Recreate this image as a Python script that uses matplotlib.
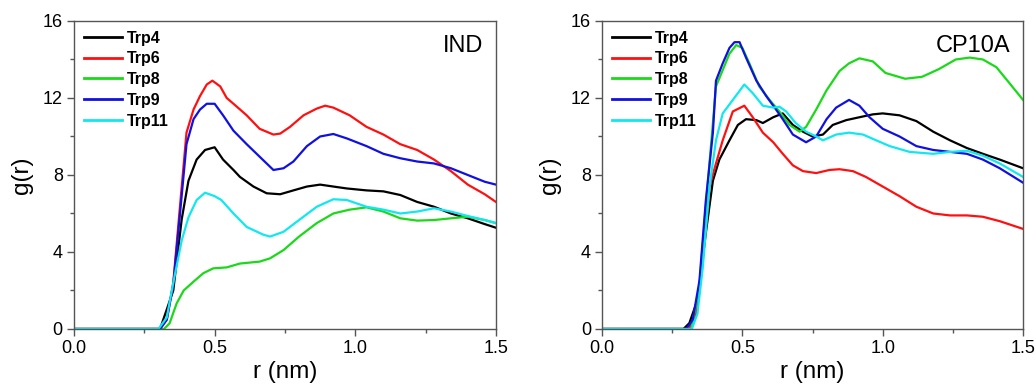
import matplotlib.pyplot as plt
from matplotlib.ticker import MultipleLocator

plt.rcParams["font.family"] = ["Liberation Sans", "DejaVu Sans"]

# ── IND ────────────────────────────────────────────────────────────────
ind_trp4_r = [0.0, 0.29, 0.306, 0.353, 0.383, 0.407, 0.436, 0.466, 0.50, 0.53, 0.567, 0.59,
              0.638, 0.685, 0.733, 0.78, 0.828, 0.875, 0.922, 0.97, 1.04, 1.10, 1.16,
              1.22, 1.28, 1.34, 1.40, 1.46, 1.50]
ind_trp4_g = [0, 0, 0, 2.0, 5.7, 7.7, 8.8, 9.3, 9.44, 8.8, 8.26, 7.9,
              7.4, 7.05, 7.0, 7.2, 7.4, 7.5, 7.4, 7.3, 7.2, 7.15, 6.96,
              6.6, 6.35, 6.0, 5.75, 5.45, 5.26]

ind_trp6_r = [0.0, 0.29, 0.306, 0.33, 0.353, 0.377, 0.40, 0.425, 0.448, 0.472, 0.492, 0.52,
              0.543, 0.567, 0.614, 0.66, 0.709, 0.733, 0.768, 0.816, 0.863, 0.893, 0.922,
              0.98, 1.04, 1.10, 1.16, 1.22, 1.28, 1.34, 1.40, 1.46, 1.50]
ind_trp6_g = [0, 0, 0, 0.47, 2.4, 6.4, 10.2, 11.4, 12.1, 12.7, 12.9, 12.6,
              12.0, 11.7, 11.1, 10.4, 10.1, 10.15, 10.5, 11.1, 11.45, 11.6, 11.5,
              11.1, 10.5, 10.1, 9.6, 9.3, 8.8, 8.2, 7.5, 7.0, 6.6]

ind_trp8_r = [0.0, 0.31, 0.32, 0.34, 0.365, 0.39, 0.425, 0.46, 0.495, 0.543, 0.59, 0.66,
              0.697, 0.745, 0.80, 0.863, 0.922, 0.98, 1.04, 1.10, 1.16, 1.22, 1.28,
              1.34, 1.40, 1.46, 1.50]
ind_trp8_g = [0, 0, 0, 0.3, 1.33, 2.0, 2.46, 2.9, 3.15, 3.2, 3.4, 3.5,
              3.67, 4.1, 4.8, 5.5, 6.0, 6.2, 6.32, 6.1, 5.75, 5.63, 5.66,
              5.75, 5.83, 5.66, 5.5]

ind_trp9_r = [0.0, 0.29, 0.306, 0.33, 0.353, 0.377, 0.40, 0.425, 0.448, 0.472, 0.50, 0.53,
              0.567, 0.614, 0.66, 0.709, 0.745, 0.78, 0.828, 0.875, 0.922, 0.97, 1.04,
              1.10, 1.16, 1.22, 1.28, 1.34, 1.40, 1.46, 1.50]
ind_trp9_g = [0, 0, 0, 0.5, 2.3, 6.0, 9.6, 10.9, 11.4, 11.7, 11.7, 11.1,
              10.3, 9.6, 8.95, 8.26, 8.35, 8.7, 9.5, 10.0, 10.13, 9.9, 9.5,
              9.1, 8.87, 8.7, 8.6, 8.35, 8.0, 7.65, 7.5]

ind_trp11_r = [0.0, 0.29, 0.30, 0.33, 0.353, 0.383, 0.407, 0.436, 0.466, 0.50, 0.524, 0.567,
               0.614, 0.673, 0.697, 0.745, 0.80, 0.863, 0.922, 0.97, 1.04, 1.10, 1.16,
               1.22, 1.28, 1.34, 1.40, 1.46, 1.50]
ind_trp11_g = [0, 0, 0, 0.6, 2.4, 4.6, 5.8, 6.7, 7.08, 6.9, 6.7, 6.0,
               5.3, 4.9, 4.8, 5.05, 5.66, 6.35, 6.74, 6.7, 6.35, 6.2, 6.0,
               6.1, 6.27, 6.1, 5.87, 5.66, 5.5]

# ── CP10A ──────────────────────────────────────────────────────────────
cp_trp4_r = [0.0, 0.28, 0.29, 0.311, 0.34, 0.37, 0.395, 0.418, 0.454, 0.484, 0.513, 0.55,
             0.573, 0.61, 0.644, 0.68, 0.716, 0.75, 0.787, 0.822, 0.87, 0.917, 0.965,
             1.0, 1.06, 1.12, 1.18, 1.24, 1.30, 1.357, 1.417, 1.50]
cp_trp4_g = [0, 0, 0, 0.3, 1.5, 5.0, 7.7, 8.8, 9.8, 10.6, 10.9, 10.85,
             10.7, 11.0, 11.2, 10.6, 10.25, 10.0, 10.1, 10.6, 10.85, 11.0, 11.15,
             11.2, 11.1, 10.8, 10.25, 9.8, 9.4, 9.1, 8.8, 8.35]

cp_trp6_r = [0.0, 0.30, 0.31, 0.335, 0.359, 0.383, 0.406, 0.43, 0.466, 0.507, 0.537, 0.573,
             0.61, 0.644, 0.68, 0.716, 0.763, 0.81, 0.846, 0.894, 0.94, 1.0, 1.06,
             1.12, 1.18, 1.24, 1.30, 1.357, 1.417, 1.50]
cp_trp6_g = [0, 0, 0, 0.8, 3.6, 7.4, 8.6, 9.8, 11.3, 11.6, 11.0, 10.2,
             9.7, 9.1, 8.5, 8.2, 8.1, 8.26, 8.3, 8.2, 7.9, 7.4, 6.9,
             6.35, 6.0, 5.9, 5.9, 5.83, 5.6, 5.2]

cp_trp8_r = [0.0, 0.31, 0.318, 0.347, 0.37, 0.406, 0.454, 0.478, 0.50, 0.525, 0.56, 0.597,
             0.632, 0.668, 0.704, 0.727, 0.763, 0.80, 0.846, 0.88, 0.917, 0.965, 1.01,
             1.08, 1.14, 1.20, 1.26, 1.31, 1.357, 1.405, 1.45, 1.50]
cp_trp8_g = [0, 0, 0, 2.2, 6.4, 12.6, 14.3, 14.75, 14.6, 13.8, 12.6, 11.9,
             11.3, 10.6, 10.25, 10.5, 11.4, 12.4, 13.4, 13.8, 14.06, 13.9, 13.3,
             13.0, 13.1, 13.5, 14.0, 14.1, 14.0, 13.6, 12.8, 11.9]

cp_trp9_r = [0.0, 0.29, 0.30, 0.323, 0.347, 0.37, 0.395, 0.406, 0.43, 0.454, 0.472, 0.49,
             0.513, 0.55, 0.585, 0.62, 0.644, 0.68, 0.727, 0.763, 0.80, 0.834, 0.88,
             0.917, 0.953, 1.0, 1.06, 1.12, 1.18, 1.24, 1.30, 1.357, 1.417, 1.50]
cp_trp9_g = [0, 0, 0, 0.47, 2.5, 6.7, 10.2, 12.9, 13.8, 14.6, 14.9, 14.9,
             14.1, 12.9, 12.1, 11.4, 10.9, 10.1, 9.7, 10.0, 10.9, 11.5, 11.9,
             11.6, 11.0, 10.4, 10.0, 9.5, 9.3, 9.2, 9.1, 8.8, 8.35, 7.6]

cp_trp11_r = [0.0, 0.31, 0.32, 0.34, 0.359, 0.383, 0.406, 0.43, 0.466, 0.507, 0.537, 0.573,
              0.61, 0.632, 0.656, 0.69, 0.727, 0.763, 0.787, 0.834, 0.88, 0.93, 0.977,
              1.025, 1.096, 1.18, 1.24, 1.30, 1.357, 1.417, 1.50]
cp_trp11_g = [0, 0, 0, 0.8, 3.2, 7.4, 9.8, 11.2, 11.9, 12.7, 12.25, 11.6,
              11.5, 11.55, 11.3, 10.7, 10.25, 10.0, 9.8, 10.1, 10.2, 10.1, 9.8,
              9.5, 9.2, 9.1, 9.2, 9.26, 9.0, 8.6, 7.9]

labels = ["Trp4", "Trp6", "Trp8", "Trp9", "Trp11"]
colors = ["#000000", "#ff1010", "#19d919", "#1010e0", "#10e8f0"]

panels = [
    ("IND", [(ind_trp4_r, ind_trp4_g), (ind_trp6_r, ind_trp6_g), (ind_trp8_r, ind_trp8_g),
             (ind_trp9_r, ind_trp9_g), (ind_trp11_r, ind_trp11_g)]),
    ("CP10A", [(cp_trp4_r, cp_trp4_g), (cp_trp6_r, cp_trp6_g), (cp_trp8_r, cp_trp8_g),
               (cp_trp9_r, cp_trp9_g), (cp_trp11_r, cp_trp11_g)]),
]

fig = plt.figure(figsize=(10.36, 3.86), dpi=100)
ax_pos = [[0.0714, 0.1477, 0.4073, 0.7979], [0.5811, 0.1477, 0.4064, 0.7979]]
spine_col = "#555555"

for pos, (name, series) in zip(ax_pos, panels):
    ax = fig.add_axes(pos)
    for (r, g), lab, col in zip(series, labels, colors):
        ax.plot(r, g, color=col, lw=1.6, label=lab)

    ax.set_xlim(0, 1.5)
    ax.set_ylim(0, 16)
    ax.xaxis.set_major_locator(MultipleLocator(0.5))
    ax.xaxis.set_minor_locator(MultipleLocator(0.25))
    ax.yaxis.set_major_locator(MultipleLocator(4))
    ax.yaxis.set_minor_locator(MultipleLocator(2))
    ax.xaxis.set_major_formatter(lambda v, p: f"{v:.1f}")
    ax.tick_params(which="major", direction="out", length=5, width=1,
                   color=spine_col, labelsize=13, pad=3)
    ax.tick_params(which="minor", direction="out", length=3, width=1, color=spine_col)
    for sp in ax.spines.values():
        sp.set_color(spine_col)
        sp.set_linewidth(1)

    ax.set_xlabel("r (nm)", fontsize=17.5, labelpad=3)
    ax.set_ylabel("g(r)", fontsize=17.5, labelpad=7)
    ax.text(0.97, 0.955, name, transform=ax.transAxes, ha="right", va="top",
            fontsize=17)

    leg = ax.legend(loc="upper left", frameon=False,
                    prop={"weight": "bold", "size": 11.5},
                    handlelength=2.4, handletextpad=0.33, labelspacing=0.36,
                    borderaxespad=0.3, borderpad=0.3)
    for line in leg.get_lines():
        line.set_linewidth(2)

fig.savefig("out.png", dpi=100)
